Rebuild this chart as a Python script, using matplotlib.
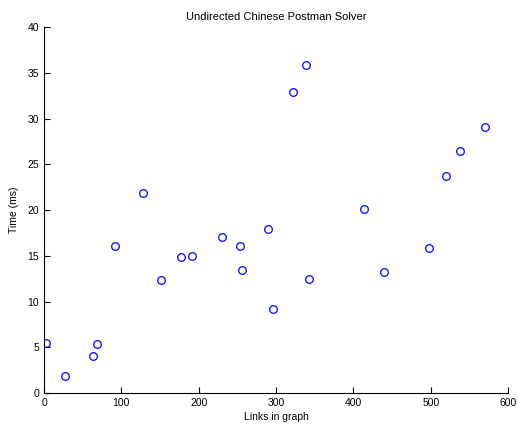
import numpy as np
from matplotlib import pyplot as plt

plt.rcParams['font.family'] = ['Liberation Sans', 'DejaVu Sans']

links = [3, 27, 63, 68, 92, 128, 151, 177, 191, 230, 253, 256, 290, 296,
         322, 339, 343, 413, 440, 498, 520, 538, 570]
times = [5.5, 1.9, 4.0, 5.3, 16.1, 21.9, 12.3, 14.9, 15.0, 17.0, 16.1, 13.4,
         17.9, 9.2, 32.9, 35.8, 12.5, 20.1, 13.2, 15.8, 23.7, 26.5, 29.1]

fig = plt.figure(figsize=(5.18, 4.26), dpi=100)
ax = fig.add_axes([0.085, 0.0775, 0.896, 0.859])

ax.plot(links, times, 'o', mfc='none', mec='#1a1aff', ms=5.5, mew=1.0)

ax.set_xlim(0, 600)
ax.set_ylim(0, 40)
ax.set_xticks(np.arange(0, 601, 100))
ax.set_yticks(np.arange(0, 41, 5))
ax.spines['top'].set_visible(False)
ax.spines['right'].set_visible(False)
ax.tick_params(direction='in', length=4, labelsize=7.5)
ax.set_title('Undirected Chinese Postman Solver', fontsize=8, pad=5)
ax.set_xlabel('Links in graph', fontsize=7.5, labelpad=3)
ax.set_ylabel('Time (ms)', fontsize=7.5, labelpad=6)

fig.savefig('out.png', dpi=100)
